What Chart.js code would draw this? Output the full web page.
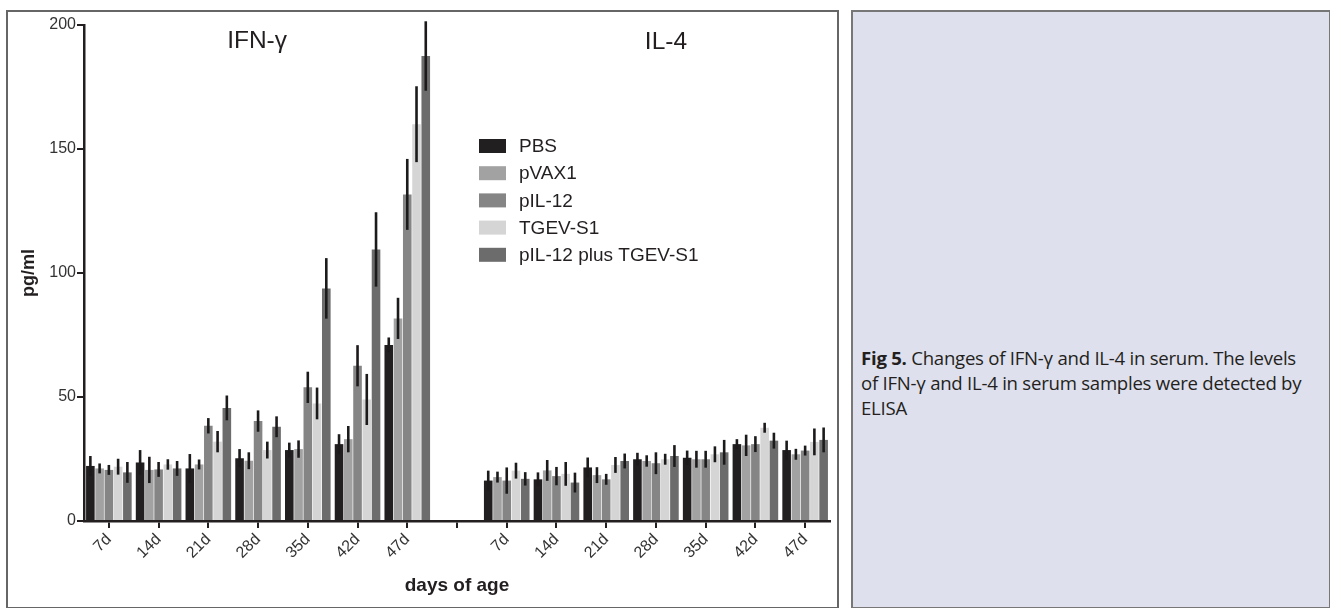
<!DOCTYPE html>
<html>
<head>
<meta charset="utf-8">
<script src="https://cdn.jsdelivr.net/npm/chart.js@4.4.1/dist/chart.umd.min.js"></script>
<style>
  html, body { margin: 0; padding: 0; background: #ffffff; }
  body { width: 1330px; height: 608px; position: relative; overflow: hidden; }
  #leftBox { position: absolute; left: 6px; top: 10px; width: 829px; height: 595px; border: 2px solid #666; box-sizing: content-box; }
  #rightBox { position: absolute; left: 851px; top: 10px; width: 476px; height: 595px; border: 2px solid #777; background: #dfe0ed; }
  #caption { position: absolute; left: 8px; top: 333px; white-space: nowrap; font-family: "Open Sans", "Noto Sans", sans-serif; font-size: 18.6px; line-height: 25px; color: #231f20; letter-spacing: -0.25px; }
  #caption b { font-weight: 700; }
  #c { position: absolute; left: 0; top: 0; }
</style>
</head>
<body>
<div id="leftBox"></div>
<div id="rightBox"><div id="caption"><b>Fig 5.</b> Changes of IFN-γ and IL-4 in serum. The levels<br>of IFN-γ and IL-4 in serum samples were detected by<br>ELISA</div></div>
<canvas id="c" width="1330" height="608"></canvas>
<script>
// ---- data ----
const categories = ['7d','14d','21d','28d','35d','42d','47d','','7d','14d','21d','28d','35d','42d','47d'];
const panelTitles = ['IFN-γ', 'IL-4'];
const seriesNames = ['PBS','pVAX1','pIL-12','TGEV-S1','pIL-12 plus TGEV-S1'];
const seriesColors = ['#221f20','#a2a2a2','#858585','#d5d5d5','#6c6c6c'];
const yTicks = [0, 50, 100, 150, 200];

const pbs      = [22.2, 23.6, 21.2, 25.3, 28.6, 31.0, 71.0, null, 16.3, 16.8, 21.6, 24.9, 25.5, 31.0, 28.6];
const pbsErr   = [4.0, 5.0, 5.8, 3.7, 3.0, 4.0, 3.0, null, 4.0, 2.8, 4.0, 2.6, 2.9, 2.0, 3.8];
const pvax     = [21.2, 20.6, 22.8, 24.3, 29.0, 33.0, 81.7, null, 17.7, 20.4, 18.5, 24.2, 24.9, 30.5, 26.9];
const pvaxErr  = [2.0, 5.3, 2.0, 3.4, 3.5, 5.3, 8.3, null, 2.2, 4.2, 3.2, 2.3, 3.4, 4.3, 2.2];
const pil12    = [20.6, 20.8, 38.4, 40.3, 53.9, 62.6, 131.7, null, 16.3, 18.1, 16.8, 23.3, 24.9, 31.0, 28.4];
const pil12Err = [2.0, 3.0, 3.1, 4.3, 6.3, 8.3, 14.3, null, 5.3, 3.7, 2.2, 4.4, 3.4, 3.2, 2.0];
const tgev     = [21.9, 22.8, 32.0, 28.6, 47.4, 49.0, 160.0, null, 20.3, 19.0, 22.6, 24.9, 26.9, 37.6, 31.9];
const tgevErr  = [3.2, 2.1, 4.3, 3.4, 6.4, 10.3, 15.3, null, 3.2, 4.8, 3.2, 2.2, 3.2, 2.0, 5.4];
const combo    = [19.6, 21.2, 45.6, 38.0, 93.8, 109.5, 187.5, null, 17.0, 15.5, 24.2, 26.2, 27.7, 32.4, 32.7];
const comboErr = [4.2, 3.0, 5.0, 4.2, 12.2, 15.0, 14.0, null, 2.7, 4.0, 3.0, 4.4, 5.0, 3.2, 5.0];

const seriesValues = [pbs, pvax, pil12, tgev, combo];
const seriesErrors = [pbsErr, pvaxErr, pil12Err, tgevErr, comboErr];

const FONT = '"Liberation Sans", Arial, sans-serif';

const errorBarPlugin = {
  id: 'errorBars',
  afterDatasetsDraw(chart) {
    const ctx = chart.ctx;
    const y = chart.scales.y;
    ctx.save();
    ctx.strokeStyle = '#1c1a1b';
    ctx.lineWidth = 2.6;
    chart.data.datasets.forEach((ds, di) => {
      const meta = chart.getDatasetMeta(di);
      meta.data.forEach((bar, i) => {
        const v = ds.data[i];
        const e = seriesErrors[di][i];
        if (v == null || e == null) return;
        ctx.beginPath();
        ctx.moveTo(bar.x, y.getPixelForValue(v + e));
        ctx.lineTo(bar.x, y.getPixelForValue(v - e));
        ctx.stroke();
      });
    });
    ctx.restore();
  }
};

const annotationsPlugin = {
  id: 'annots',
  afterDraw(chart) {
    const ctx = chart.ctx;
    const x = chart.scales.x;
    ctx.save();
    ctx.fillStyle = '#231f20';
    // panel titles
    ctx.font = '24.5px ' + FONT;
    ctx.textAlign = 'center';
    ctx.textBaseline = 'alphabetic';
    ctx.fillText(panelTitles[0], x.getPixelForValue(3) - 1, 48);
    ctx.fillText(panelTitles[1], x.getPixelForValue(11) + 10, 49);
    // axis titles
    ctx.font = 'bold 19px ' + FONT;
    ctx.fillText('days of age', (chart.chartArea.left + chart.chartArea.right) / 2, 591);
    ctx.save();
    ctx.translate(34, 273);
    ctx.rotate(-Math.PI / 2);
    ctx.font = 'bold 18px ' + FONT;
    ctx.fillText('pg/ml', 0, 0);
    ctx.restore();
    // legend
    ctx.font = '19px ' + FONT;
    ctx.textAlign = 'left';
    ctx.textBaseline = 'middle';
    seriesNames.forEach((name, i) => {
      const yy = 146 + i * 27.2;
      ctx.fillStyle = seriesColors[i];
      ctx.fillRect(479, yy - 7, 27, 14);
      ctx.fillStyle = '#231f20';
      ctx.fillText(name, 519, yy + 1);
    });
    ctx.restore();
  }
};

new Chart(document.getElementById('c'), {
  type: 'bar',
  data: {
    labels: categories,
    datasets: seriesNames.map((name, i) => ({
      label: name,
      data: seriesValues[i],
      backgroundColor: seriesColors[i],
      borderWidth: 0,
      barPercentage: 0.93,
      categoryPercentage: 0.93
    }))
  },
  options: {
    responsive: false,
    animation: false,
    devicePixelRatio: 1,
    layout: { padding: { left: 0, top: 25, right: 500, bottom: 0 } },
    plugins: { legend: { display: false }, tooltip: { enabled: false } },
    scales: {
      x: {
        afterFit(scale) { scale.height = 87; },
        grid: { display: true, offset: false, drawOnChartArea: false, drawTicks: true, tickLength: 7, color: '#231f20', lineWidth: 2 },
        border: { display: true, color: '#231f20', width: 2.5 },
        ticks: { minRotation: 45, maxRotation: 45, autoSkip: false, padding: 2, color: '#333', font: { family: FONT, size: 16 } }
      },
      y: {
        min: 0, max: 200,
        afterFit(scale) { scale.width = 84; },
        afterBuildTicks(scale) { scale.ticks = yTicks.map(v => ({ value: v })); },
        grid: { display: true, drawOnChartArea: false, drawTicks: true, tickLength: 7, color: '#231f20', lineWidth: 2 },
        border: { display: true, color: '#231f20', width: 2.5 },
        ticks: { padding: 1, color: '#333', font: { family: FONT, size: 16 } }
      }
    }
  },
  plugins: [errorBarPlugin, annotationsPlugin]
});
</script>
</body>
</html>
